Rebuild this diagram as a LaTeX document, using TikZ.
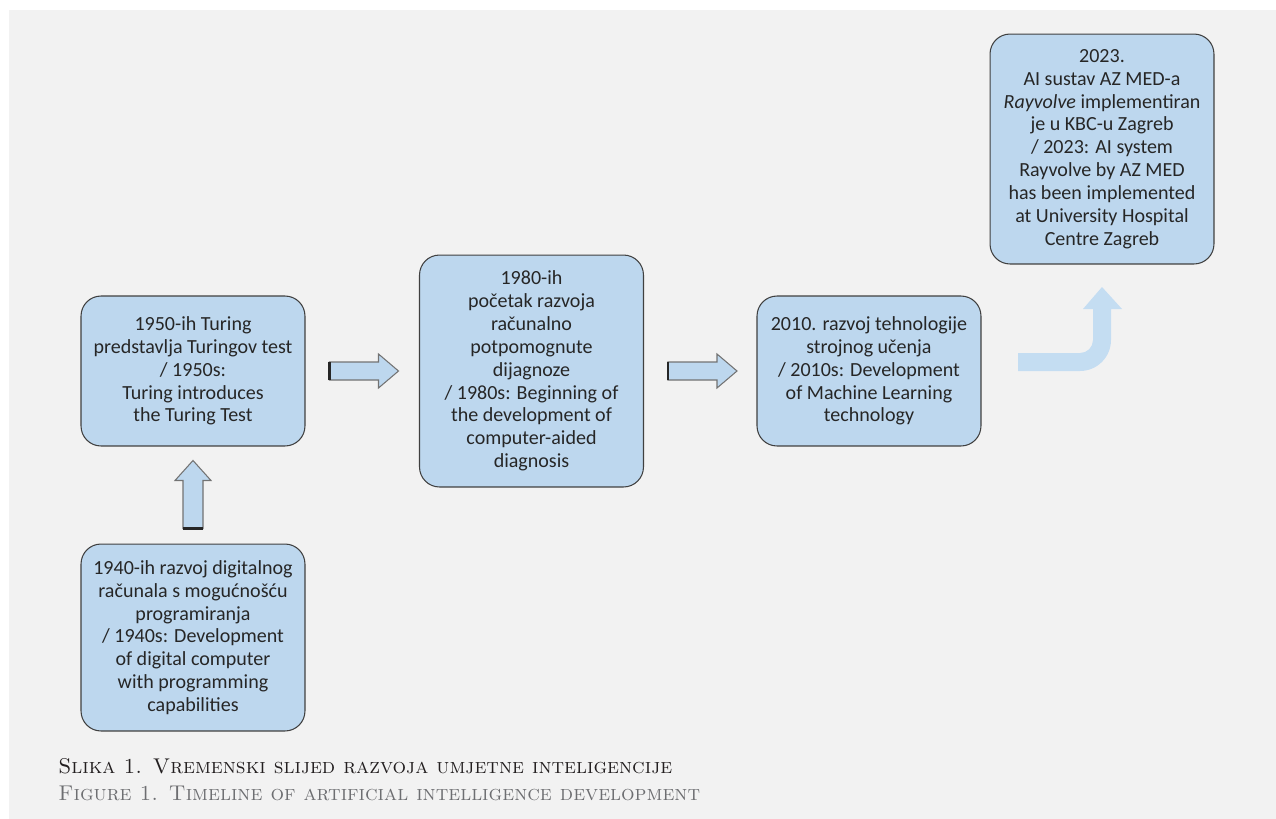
\documentclass[tikz,border=0pt]{standalone}
\usepackage{fontspec}
\newfontfamily\boxfont{Carlito}
\usepackage{tikz}
\usetikzlibrary{calc}

\definecolor{panel}{HTML}{F2F2F2}
\definecolor{boxblue}{HTML}{BDD7EE}
\definecolor{bentblue}{HTML}{C4DDF2}
\definecolor{boxtext}{HTML}{262626}
\definecolor{capdark}{HTML}{231F20}
\definecolor{capgray}{HTML}{6D6E71}

\tikzset{
  box/.style={draw=black!75, line width=0.6pt, fill=boxblue, rounded corners=0.4cm,
    minimum width=4.48cm, align=center, text=boxtext,
    font=\boxfont\fontsize{11.4}{13}\selectfont},
  barrow/.style={draw=black!55, line width=0.6pt, fill=boxblue},
  tailedge/.style={line width=1.5pt, black!85}
}

\begin{document}
\begin{tikzpicture}[x=0.02cm, y=-0.02cm]
\useasboundingbox (0,0) rectangle (1276,819);
\fill[panel] (9,10) rectangle (1276,819);

\node[box, minimum height=3cm] (t1950) at (193,371)
  {1950-ih Turing\\ predstavlja Turingov test\\ / 1950s:\\ Turing introduces\\ the Turing Test};
\node[box, minimum height=3.74cm] (t1940) at (193,637.5)
  {1940-ih razvoj digitalnog\\ računala s mogućnošću\\ programiranja\\ / 1940s: Development\\ of digital computer\\ with programming\\ capabilities};
\node[box, minimum height=4.64cm] (t1980) at (531.5,371)
  {1980-ih\\ početak razvoja\\ računalno\\ potpomognute\\ dijagnoze\\ / 1980s: Beginning of\\ the development of\\ computer-aided\\ diagnosis};
\node[box, minimum height=3cm] (t2010) at (869,371)
  {2010. razvoj tehnologije\\ strojnog učenja\\ / 2010s: Development\\ of Machine Learning\\ technology};
\node[box, minimum height=4.6cm] (t2023) at (1102,149)
  {2023.\\ AI sustav AZ MED-a\\ \textit{Rayvolve} implementiran\\ je u KBC-u Zagreb\\ / 2023: AI system\\ Rayvolve by AZ MED\\ has been implemented\\ at University Hospital\\ Centre Zagreb};

% block arrows
\foreach \from in {t1950,t1980}{
  \draw[barrow] ($(\from.east)+(24,-9)$) -- ++(49,0) -- ++(0,-8) -- ++(20,17)
    -- ++(-20,17) -- ++(0,-8) -- ++(-49,0) -- cycle;
  \draw[tailedge] ($(\from.east)+(24,-9)$) -- ++(0,18);
}
\draw[barrow] ($(t1940.north)+(-10,-15)$) -- ++(0,-48) -- ++(-8,0) -- ++(18,-20)
  -- ++(18,20) -- ++(-8,0) -- ++(0,48) -- cycle;
\draw[tailedge] ($(t1940.north)+(-10,-15)$) -- ++(20,0);

% bent arrow
\fill[bentblue] (1018,353) -- (1080,353) arc[start angle=-90, end angle=0, radius=0.26cm]
  -- (1093,309) -- (1083,309) -- (1102,287) -- (1122,309) -- (1111,309) -- (1111,340)
  arc[start angle=0, end angle=-90, radius=0.62cm] -- (1018,371) -- cycle;

\node[anchor=base west, text=capdark, font=\fontsize{12.15}{14}\selectfont, inner sep=0pt] (cap1) at (58,773)
  {\textsc{Slika 1. Vremenski slijed razvoja umjetne inteligencije}};
\node[anchor=base west, text=capgray, font=\fontsize{12.15}{14}\selectfont, inner sep=0pt] (cap2) at (58,800)
  {\textsc{Figure 1. Timeline of artificial intelligence development}};
\end{tikzpicture}
\end{document}
